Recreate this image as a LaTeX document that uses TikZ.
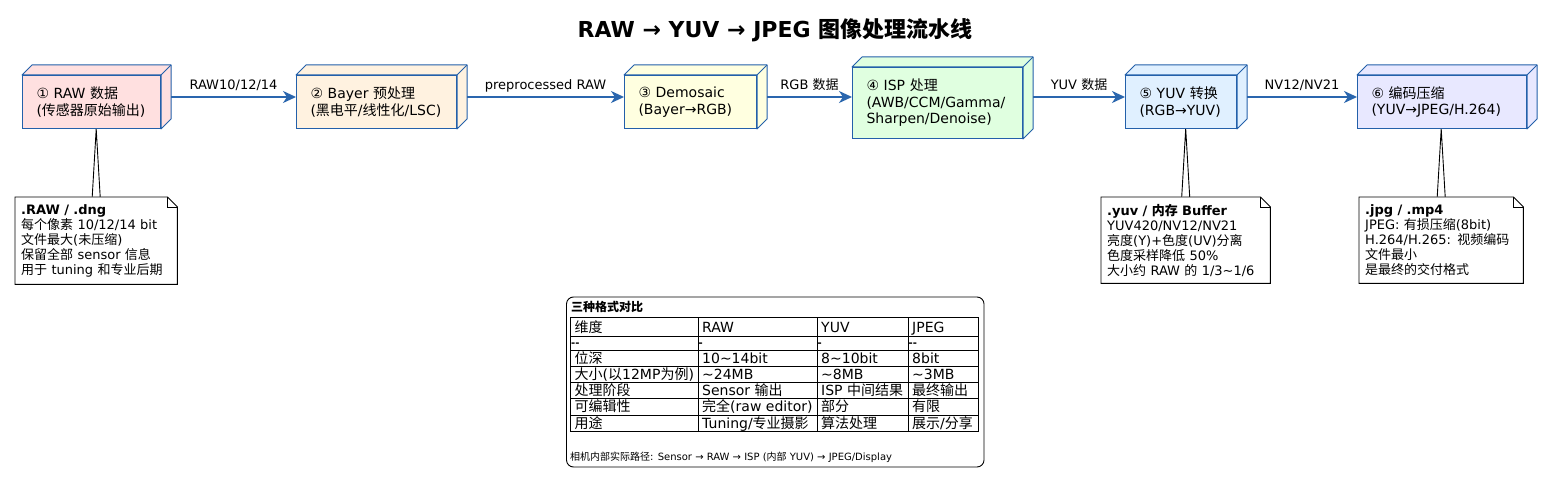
\documentclass[tikz,border=0pt]{standalone}
\usepackage{fontspec}
\setmainfont{DejaVu Sans}
\newfontfamily\cjk{Noto Sans CJK SC}
\newcommand\zh[1]{{\cjk #1}}
\usetikzlibrary{arrows.meta,calc}
\pgfdeclarelayer{bg}
\pgfsetlayers{bg,main}
\definecolor{cA}{HTML}{FFE0E0}
\definecolor{cB}{HTML}{FFF2E0}
\definecolor{cC}{HTML}{FFFFE0}
\definecolor{cD}{HTML}{E0FFE0}
\definecolor{cE}{HTML}{E0F0FF}
\definecolor{cF}{HTML}{E8E8FF}
\definecolor{bordercol}{HTML}{2360AA}
\definecolor{flowcol}{HTML}{2A66AE}
\tikzset{
  stagebox/.style={draw=bordercol, line width=1pt, align=left, inner xsep=14pt, inner ysep=0pt,
    anchor=north west, font=\fontsize{14}{16.5}\selectfont},
  flow/.style={draw=flowcol, line width=2pt, -{Stealth[length=13pt,width=12pt,inset=4pt]}},
  flowlabel/.style={anchor=base, yshift=7.4pt, inner sep=0pt, font=\fontsize{13}{15}\selectfont, text=black},
  notetext/.style={anchor=north west, align=left, inner xsep=6pt, inner ysep=0pt,
    font=\fontsize{13}{15}\selectfont},
  noteline/.style={draw=black, line width=0.9pt},
  cell/.style={anchor=base west, inner sep=0pt, font=\fontsize{14}{16}\selectfont},
  dashcell/.style={anchor=base west, inner sep=0pt, font=\fontsize{10}{12}\selectfont\bfseries},
  gridline/.style={draw=black, line width=1pt},
}
\newcommand\stagefaces[2]{%
  \draw[draw=bordercol, line width=1pt, fill=#2, line join=round]
    (#1.north west) -- ++(10pt,10pt) -- ([shift={(10pt,10pt)}]#1.north east)
    -- ([shift={(10pt,10pt)}]#1.south east) -- (#1.south east) -- (#1.north east) -- cycle;
  \draw[draw=bordercol, line width=1pt] (#1.north east) -- ++(10pt,10pt);}
\newcommand\noteshape[1]{%
  \draw[noteline, fill=white] (#1.north west) -- ([xshift=-10pt]#1.north east)
    -- ([yshift=-10pt]#1.north east) -- (#1.south east) -- (#1.south west) -- cycle;
  \draw[noteline] ([xshift=-10pt]#1.north east) -- ([shift={(-10pt,-10pt)}]#1.north east)
    -- ([yshift=-10pt]#1.north east);}
\begin{document}
\begin{tikzpicture}[x=1pt,y=-1pt]
\useasboundingbox (0,0) rectangle (1550,478);
\begin{pgfonlayer}{bg}
  \fill[white] (0,0) rectangle (1550,478);
\end{pgfonlayer}

% title
\node[font=\fontsize{22}{26}\selectfont\bfseries, anchor=base, inner sep=0pt] (title) at (775,37.5)
  {RAW → YUV → JPEG \zh{图像处理流水线}};

% stages
\node[stagebox, fill=cA, minimum width=138pt, text width=110pt, minimum height=53pt] (b1) at (22,75)
  {① RAW \zh{数据}\\(\zh{传感器原始输出})};
\stagefaces{b1}{cA}
\node[stagebox, fill=cB, minimum width=160pt, text width=132pt, minimum height=53pt] (b2) at (296,75)
  {② Bayer \zh{预处理}\\(\zh{黑电平}/\zh{线性化}/LSC)};
\stagefaces{b2}{cB}
\node[stagebox, fill=cC, minimum width=132pt, text width=104pt, minimum height=53pt] (b3) at (624,75)
  {③ Demosaic\\(Bayer→RGB)};
\stagefaces{b3}{cC}
\node[stagebox, fill=cD, minimum width=170pt, text width=142pt, minimum height=71pt] (b4) at (852,67)
  {④ ISP \zh{处理}\\(AWB/CCM/Gamma/\\Sharpen/Denoise)};
\stagefaces{b4}{cD}
\node[stagebox, fill=cE, minimum width=111pt, text width=83pt, minimum height=53pt] (b5) at (1125,75)
  {⑤ YUV \zh{转换}\\(RGB→YUV)};
\stagefaces{b5}{cE}
\node[stagebox, fill=cF, minimum width=169pt, text width=141pt, minimum height=53pt] (b6) at (1357,75)
  {⑥ \zh{编码压缩}\\(YUV→JPEG/H.264)};
\stagefaces{b6}{cF}

% flows
\draw[flow] ([shift={(10pt,5pt)}]b1.east) -- node[flowlabel]{RAW10/12/14} ([yshift=5pt]b2.west);
\draw[flow] ([shift={(10pt,5pt)}]b2.east) -- node[flowlabel]{preprocessed RAW} ([yshift=5pt]b3.west);
\draw[flow] ([shift={(10pt,5pt)}]b3.east) -- node[flowlabel]{RGB \zh{数据}} ($(b4.west |- b3.east)+(0pt,5pt)$);
\draw[flow] ($(b4.east |- b5.west)+(10pt,5pt)$) -- node[flowlabel]{YUV \zh{数据}} ([yshift=5pt]b5.west);
\draw[flow] ([shift={(10pt,5pt)}]b5.east) -- node[flowlabel]{NV12/NV21} ([yshift=5pt]b6.west);

% notes
\node[notetext, minimum width=162pt, text width=150pt, minimum height=87pt] (n1) at (15,197)
  {\textbf{.RAW / .dng}\\\zh{每个像素} 10/12/14 bit\\\zh{文件最大}(\zh{未压缩})\\\zh{保留全部} sensor \zh{信息}\\\zh{用于} tuning \zh{和专业后期}};
\node[notetext, minimum width=169pt, text width=157pt, minimum height=86pt] (n2) at (1101,197)
  {\textbf{.yuv / \zh{内存} Buffer}\\YUV420/NV12/NV21\\\zh{亮度}(Y)+\zh{色度}(UV)\zh{分离}\\\zh{色度采样降低} 50\%\\\zh{大小约} RAW \zh{的} 1/3\textasciitilde1/6};
\node[notetext, minimum width=164pt, text width=152pt, minimum height=86pt] (n3) at (1359,197)
  {\textbf{.jpg / .mp4}\\JPEG: \zh{有损压缩}(8bit)\\H.264/H.265: \zh{视频编码}\\\zh{文件最小}\\\zh{是最终的交付格式}};
\begin{pgfonlayer}{bg}
  \draw[noteline, fill=white] ([xshift=-4pt]n1.north) -- (n1.north |- b1.south) -- ([xshift=4pt]n1.north);
  \draw[noteline, fill=white] ([xshift=-4pt]n2.north) -- (n2.north |- b5.south) -- ([xshift=4pt]n2.north);
  \draw[noteline, fill=white] ([xshift=-4pt]n3.north) -- (n3.north |- b6.south) -- ([xshift=4pt]n3.north);
  \noteshape{n1}
  \noteshape{n2}
  \noteshape{n3}
\end{pgfonlayer}

% comparison table
\draw[line width=0.9pt, rounded corners=7pt] (566.5,297) rectangle (984,467);
\node[anchor=base west, inner sep=0pt, font=\fontsize{12}{14}\selectfont\bfseries] (ttitle) at (571,311.5)
  {\zh{三种格式对比}};
\draw[gridline] (570.5,318) rectangle (978,431);
\foreach \yy in {336,350,366,382,398,415} \draw[gridline] (570.5,\yy) -- (978,\yy);
\foreach \xx in {698,817,908} \draw[gridline] (\xx,318) -- (\xx,431);

\node[cell] (h1) at (574.5,332) {\zh{维度}};
\node[cell] (h2) at (702,332) {RAW};
\node[cell] (h3) at (821,332) {YUV};
\node[cell] (h4) at (912,332) {JPEG};

\node[dashcell] (d1) at (571,346) {-{}-};
\node[dashcell] (d2) at (698.5,346) {-};
\node[dashcell] (d3) at (817.5,346) {-};
\node[dashcell] (d4) at (908.5,346) {-{}-};

\node[cell] (r1a) at (574.5,363) {\zh{位深}};
\node[cell] (r1b) at (702,363) {10\textasciitilde14bit};
\node[cell] (r1c) at (821,363) {8\textasciitilde10bit};
\node[cell] (r1d) at (912,363) {8bit};

\node[cell] (r2a) at (574.5,379) {\zh{大小}(\zh{以}12MP\zh{为例})};
\node[cell] (r2b) at (702,379) {\textasciitilde24MB};
\node[cell] (r2c) at (821,379) {\textasciitilde8MB};
\node[cell] (r2d) at (912,379) {\textasciitilde3MB};

\node[cell] (r3a) at (574.5,395) {\zh{处理阶段}};
\node[cell] (r3b) at (702,395) {Sensor \zh{输出}};
\node[cell] (r3c) at (821,395) {ISP \zh{中间结果}};
\node[cell] (r3d) at (912,395) {\zh{最终输出}};

\node[cell] (r4a) at (574.5,411.5) {\zh{可编辑性}};
\node[cell] (r4b) at (702,411.5) {\zh{完全}(raw editor)};
\node[cell] (r4c) at (821,411.5) {\zh{部分}};
\node[cell] (r4d) at (912,411.5) {\zh{有限}};

\node[cell] (r5a) at (574.5,428) {\zh{用途}};
\node[cell] (r5b) at (702,428) {Tuning/\zh{专业摄影}};
\node[cell] (r5c) at (821,428) {\zh{算法处理}};
\node[cell] (r5d) at (912,428) {\zh{展示}/\zh{分享}};

\node[anchor=base west, inner sep=0pt, font=\fontsize{10}{12}\selectfont] (foot) at (570,460.5)
  {\zh{相机内部实际路径}: Sensor → RAW → ISP (\zh{内部} YUV) → JPEG/Display};
\end{tikzpicture}
\end{document}
